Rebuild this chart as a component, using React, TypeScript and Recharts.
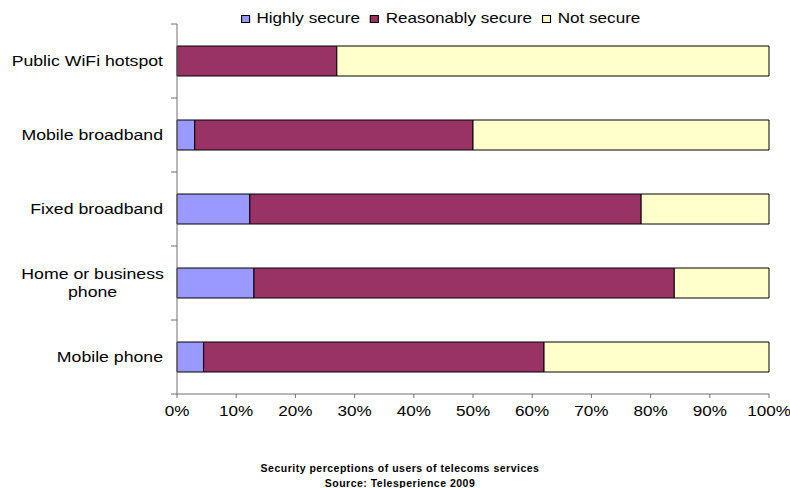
import { Bar, BarChart, XAxis, YAxis } from "recharts";

const categories = [
  "Public WiFi hotspot",
  "Mobile broadband",
  "Fixed broadband",
  "Home or business phone",
  "Mobile phone",
];
const highlySecure = [0, 3, 12.3, 13, 4.5];
const reasonablySecure = [27, 47, 66.1, 71, 57.5];
const notSecure = [73, 50, 21.6, 16, 38];
const xTicks = [0, 10, 20, 30, 40, 50, 60, 70, 80, 90, 100];

const SERIES = [
  { key: "highly", name: "Highly secure", color: "#9999FF" },
  { key: "reasonably", name: "Reasonably secure", color: "#993366" },
  { key: "not", name: "Not secure", color: "#FFFFCC" },
];

const FONT = "'Liberation Sans', Arial, sans-serif";
const AXIS = "#707070";
const STRETCH = 1.18; // the original picture is stretched sideways

const data = categories.map((c, i) => ({
  category: c,
  highly: highlySecure[i],
  reasonably: reasonablySecure[i],
  not: notSecure[i],
}));

interface TickProps {
  x?: number;
  y?: number;
  index?: number;
  payload?: { value: string | number; offset?: number };
}

const Stretched = ({ x, y, anchor, size = 15, children }: { x: number; y: number; anchor: "start" | "middle" | "end"; size?: number; children: string }) => (
  <text
    transform={`translate(${x},${y}) scale(${STRETCH},1)`}
    x={0}
    y={0}
    textAnchor={anchor}
    fontSize={size}
    fill="#000"
    fontFamily={FONT}
  >
    {children}
  </text>
);

// category label plus a tick mark on the band boundary (Excel style)
const CategoryTick = ({ x = 0, y = 0, index = 0, payload }: TickProps) => {
  const label = String(payload?.value ?? "");
  const half = payload?.offset ?? 0;
  const cut = label.lastIndexOf(" ");
  const lines = label.length > 20 ? [label.slice(0, cut), label.slice(cut + 1)] : [label];
  const right = x - 14;
  const longest = Math.max(...lines.map((l) => l.length));
  const cx = right - (longest * 8.8) / 2;
  return (
    <g>
      <line x1={x - 6} x2={x} y1={y - half} y2={y - half} stroke={AXIS} />
      {index === categories.length - 1 && (
        <line x1={x - 6} x2={x} y1={y + half} y2={y + half} stroke={AXIS} />
      )}
      {lines.length === 1 ? (
        <Stretched x={right} y={y + 5} anchor="end">
          {label}
        </Stretched>
      ) : (
        lines.map((l, i) => (
          <Stretched key={i} x={cx} y={y - 4 + i * 18} anchor="middle">
            {l}
          </Stretched>
        ))
      )}
    </g>
  );
};

const PercentTick = ({ x = 0, y = 0, payload }: TickProps) => (
  <Stretched x={x} y={y + 16} anchor="middle" size={14.5}>
    {`${payload?.value}%`}
  </Stretched>
);

export default function App() {
  return (
    <div style={{ position: "absolute", left: 0, top: 0, width: 790, height: 488, background: "#fff", fontFamily: FONT, overflow: "hidden" }}>
      <div
        style={{
          position: "absolute",
          top: 9,
          left: 241,
          display: "flex",
          gap: 9,
          fontSize: 15,
          lineHeight: "18px",
          whiteSpace: "nowrap",
          transform: "scaleX(1.14)",
          transformOrigin: "left top",
        }}
      >
        {SERIES.map((s) => (
          <div key={s.key} style={{ display: "flex", alignItems: "center", gap: 6 }}>
            <span style={{ width: 5.5, height: 6, background: s.color, border: "1px solid #000", display: "inline-block", marginTop: 2 }} />
            <span>{s.name}</span>
          </div>
        ))}
      </div>
      <BarChart
        width={790}
        height={488}
        data={data}
        layout="vertical"
        margin={{ top: 24, right: 21, bottom: 64, left: 0 }}
        barSize={30}
        style={{ position: "absolute", left: 0, top: 0 }}
      >
        <XAxis
          type="number"
          domain={[0, 100]}
          ticks={xTicks}
          tick={<PercentTick />}
          stroke={AXIS}
          tickSize={4}
          height={30}
          interval={0}
        />
        <YAxis
          type="category"
          dataKey="category"
          width={177}
          stroke={AXIS}
          tickLine={false}
          tickSize={0}
          tickMargin={0}
          tick={<CategoryTick />}
          interval={0}
        />
        {SERIES.map((s) => (
          <Bar
            key={s.key}
            dataKey={s.key}
            name={s.name}
            stackId="a"
            fill={s.color}
            stroke="#000"
            strokeWidth={1}
            isAnimationActive={false}
          />
        ))}
      </BarChart>
      <div
        style={{
          position: "absolute",
          top: 461,
          left: 0,
          width: 800,
          textAlign: "center",
          fontSize: 10.5,
          fontWeight: "bold",
          letterSpacing: 0.5,
          lineHeight: "15px",
        }}
      >
        <div>Security perceptions of users of telecoms services</div>
        <div>Source: Telesperience 2009</div>
      </div>
    </div>
  );
}
